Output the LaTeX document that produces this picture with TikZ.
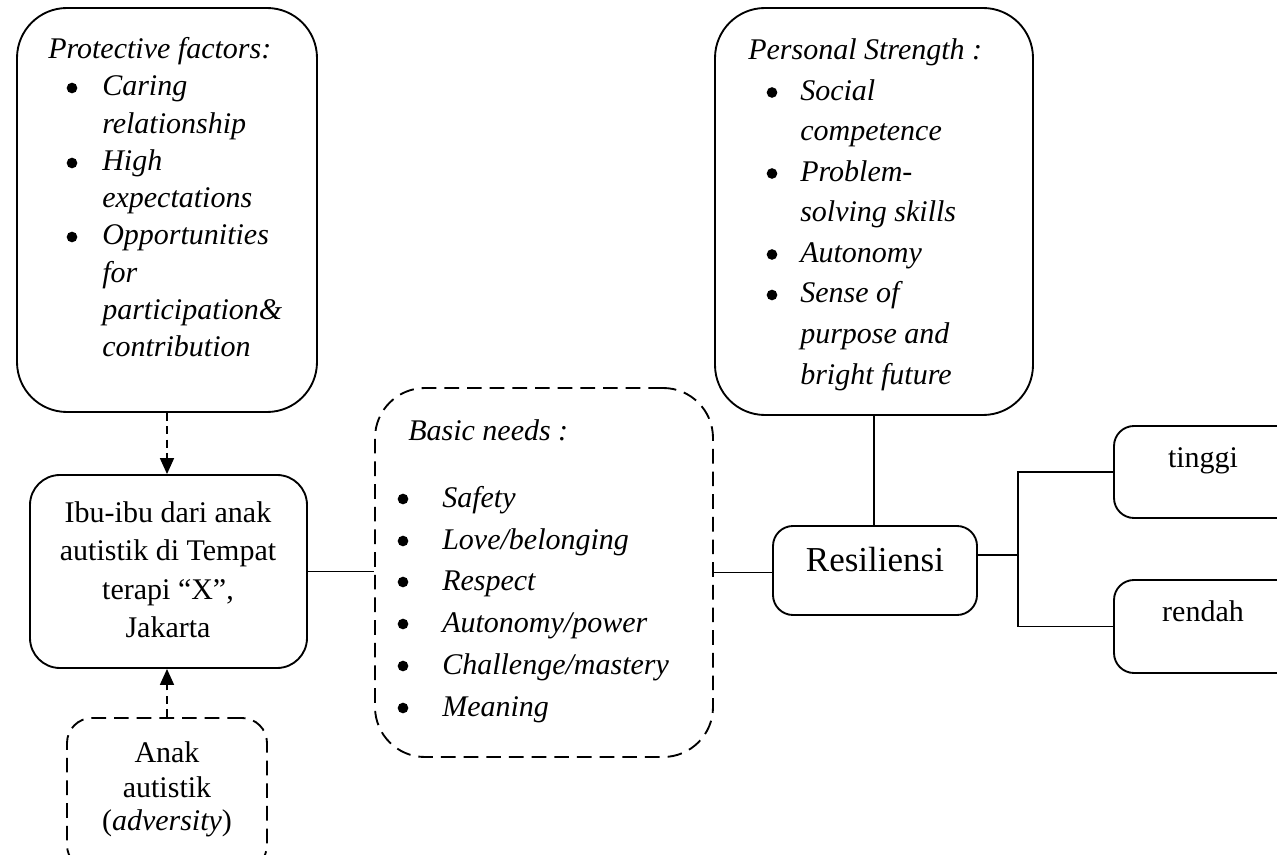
\documentclass[tikz,border=0pt]{standalone}
\usepackage{fontspec}
\setmainfont{Liberation Serif}
\usetikzlibrary{arrows.meta}
\begin{document}
\begin{tikzpicture}[x=0.75pt,y=-0.75pt,
  box/.style={draw,line width=1.4pt,rounded corners=#1,inner sep=0pt},
  box/.default=15pt,
  dashbox/.style={box=#1,dash pattern=on 11pt off 6pt},
  dashbox/.default=15pt,
  conn/.style={line width=1.2pt},
  arr/.style={line width=1.3pt,dash pattern=on 6pt off 4pt,-{Triangle[length=12pt,width=10.5pt]}},
  txt/.style={font=\fontsize{22.5pt}{27pt}\selectfont,inner sep=0pt},
  itx/.style={txt,font=\fontsize{22.5pt}{27pt}\selectfont\itshape,anchor=base west},
  bul/.style={circle,fill,inner sep=0pt,minimum size=8pt,yshift=6pt},
  ctx/.style={txt,anchor=base}]
\path[use as bounding box] (0,0) rectangle (1277,855);
\clip (0,0) rectangle (1277,855);

% boxes
\node[box=37.5pt,minimum width=225pt,minimum height=303pt] (prot) at (167,210) {};
\node[box=37.5pt,minimum width=238.5pt,minimum height=305.25pt] (pers) at (874,211.5) {};
\node[box=22.5pt,minimum width=207.75pt,minimum height=144.75pt] (ibu) at (168.5,571.5) {};
\node[dashbox=37.5pt,minimum width=253.5pt,minimum height=276.75pt] (basic) at (544,572.5) {};
\node[dashbox=18.75pt,minimum width=150pt,minimum height=114pt] (anak) at (167,794) {};
\node[box=15pt,minimum width=153pt,minimum height=66.75pt] (res) at (875,570.5) {};
\node[box=15pt,minimum width=154.5pt,minimum height=69pt] (tinggi) at (1217,472) {};
\node[box=15pt,minimum width=154.5pt,minimum height=69.75pt] (rendah) at (1217,626.5) {};

% Protective factors text
\node[itx] (p0) at (48,59) {Protective factors:};
\node[bul] (pb1) at (72,96) {};
\node[itx] (p1) at (102,96) {Caring};
\node[itx] (p2) at (102,134) {relationship};
\node[bul] (pb3) at (72,171) {};
\node[itx] (p3) at (102,171) {High};
\node[itx] (p4) at (102,208) {expectations};
\node[bul] (pb5) at (72,245) {};
\node[itx] (p5) at (102,245) {Opportunities};
\node[itx] (p6) at (102,283) {for};
\node[itx] (p7) at (102,320) {participation\&};
\node[itx] (p8) at (102,357) {contribution};

% Personal Strength text
\node[itx] (s0) at (748,60) {Personal Strength :};
\node[bul] (sb1) at (772,100.5) {};
\node[itx] (s1) at (800,100.5) {Social};
\node[itx] (s2) at (800,141) {competence};
\node[bul] (sb3) at (772,181.5) {};
\node[itx] (s3) at (800,181.5) {Problem-};
\node[itx] (s4) at (800,222) {solving skills};
\node[bul] (sb5) at (772,262.5) {};
\node[itx] (s5) at (800,262.5) {Autonomy};
\node[bul] (sb6) at (772,303) {};
\node[itx] (s6) at (800,303) {Sense of};
\node[itx] (s7) at (800,343.5) {purpose and};
\node[itx] (s8) at (800,384) {bright future};

% Basic needs text
\node[itx] (b0) at (408,440) {Basic needs :};
\node[bul] (bb1) at (403,507) {};
\node[itx] (b1) at (442,507) {Safety};
\node[bul] (bb2) at (403,549) {};
\node[itx] (b2) at (442,549) {Love/belonging};
\node[bul] (bb3) at (403,590) {};
\node[itx] (b3) at (442,590) {Respect};
\node[bul] (bb4) at (403,632) {};
\node[itx] (b4) at (442,632) {Autonomy/power};
\node[bul] (bb5) at (403,674) {};
\node[itx] (b5) at (442,674) {Challenge/mastery};
\node[bul] (bb6) at (403,716) {};
\node[itx] (b6) at (442,716) {Meaning};

% Ibu text
\node[ctx] (i1) at (168,522) {Ibu-ibu dari anak};
\node[ctx] (i2) at (168,560) {autistik di Tempat};
\node[ctx] (i3) at (168,599) {terapi “X”,};
\node[ctx] (i4) at (168,637) {Jakarta};

% Anak text
\node[ctx] (a1) at (167,762) {Anak};
\node[ctx] (a2) at (167,797) {autistik};
\node[ctx] (a3) at (167,830) {(\textit{adversity})};

% Resiliensi, tinggi, rendah
\node[txt,anchor=base,font=\fontsize{26.25pt}{30pt}\selectfont] (rt) at (875,571) {Resiliensi};
\node[ctx] (tt) at (1203,467) {tinggi};
\node[ctx] (rr) at (1203,621) {rendah};

% connectors
\coordinate (j) at (1018,555);
\draw[arr] (prot.south) -- (prot.south |- ibu.north);
\draw[arr] (anak.north) -- (anak.north |- ibu.south);
\draw[conn] (ibu.east) -- (ibu.east -| basic.west);
\draw[conn] (basic.east) -- (basic.east -| res.west);
\draw[conn] (pers.south) -- (pers.south |- res.north);
\draw[conn] (res.east |- j) -- (j);
\draw[conn] (tinggi.west) -| (j) |- (rendah.west);
\end{tikzpicture}
\end{document}
